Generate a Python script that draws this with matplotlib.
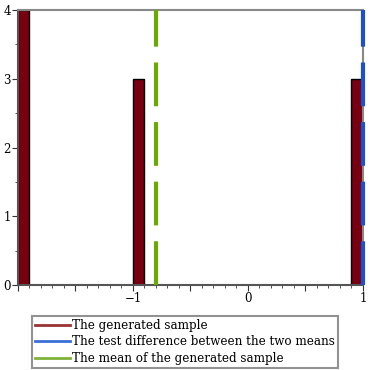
import numpy as np
import matplotlib.pyplot as plt
from matplotlib.lines import Line2D

# histogram of the generated sample
bin_lefts = [-2.0, -1.0, 0.9]
bin_counts = [4, 3, 3]
bin_width = 0.1

sample_mean = -0.8
test_diff = 1.0

legend_labels = ["The generated sample",
                 "The test difference between the two means",
                 "The mean of the generated sample"]

plt.rcParams['font.family'] = 'serif'
plt.rcParams['font.serif'] = ['DejaVu Serif']

fig = plt.figure(figsize=(3.7, 3.7), dpi=100)
ax = fig.add_axes([0.0486, 0.2297, 0.9324, 0.7433])

ax.bar(bin_lefts, bin_counts, width=bin_width, align='edge',
       color='#780010', edgecolor='black', linewidth=1.0, zorder=2)

ax.axvline(sample_mean, color='#6aaa00', lw=3, dashes=(10.5, 3.8), zorder=3)
ax.axvline(test_diff, color='#1e50cc', lw=3, dashes=(10.5, 3.8), zorder=3,
           clip_on=False)

ax.set_xlim(-2, 1)
ax.set_ylim(0, 4)

ax.set_xticks([-2, -1.5, -1, -0.5, 0, 0.5, 1])
ax.set_xticklabels(['', '', '\u22121', '', '0', '', '1'])
ax.set_xticks(np.arange(-2, 1.01, 0.1), minor=True)
ax.set_yticks([0, 1, 2, 3, 4])
ax.set_yticks(np.arange(0, 4.01, 0.5), minor=True)

ax.tick_params(axis='both', which='major', length=4, width=0.8,
               labelsize=8.5, pad=1, color='#333333')
ax.tick_params(axis='both', which='minor', length=2, width=0.6,
               color='#333333')

for side in ['left', 'bottom']:
    ax.spines[side].set_color('#555555')
    ax.spines[side].set_linewidth(1.5)
for side in ['top', 'right']:
    ax.spines[side].set_color('#888888')
    ax.spines[side].set_linewidth(1.5)

handles = [Line2D([], [], color='#993333', lw=2),
           Line2D([], [], color='#3b6fd8', lw=2),
           Line2D([], [], color='#7fb23a', lw=2)]
leg = fig.legend(handles, legend_labels, loc='center',
                 bbox_to_anchor=(0.5, 0.076), fontsize=8.6, fancybox=False,
                 handlelength=2.9, handletextpad=0.2, labelspacing=0.3,
                 borderpad=0.25, borderaxespad=0)
leg.get_frame().set_edgecolor('#777777')
leg.get_frame().set_linewidth(1.5)

fig.savefig('out.png', dpi=100)
